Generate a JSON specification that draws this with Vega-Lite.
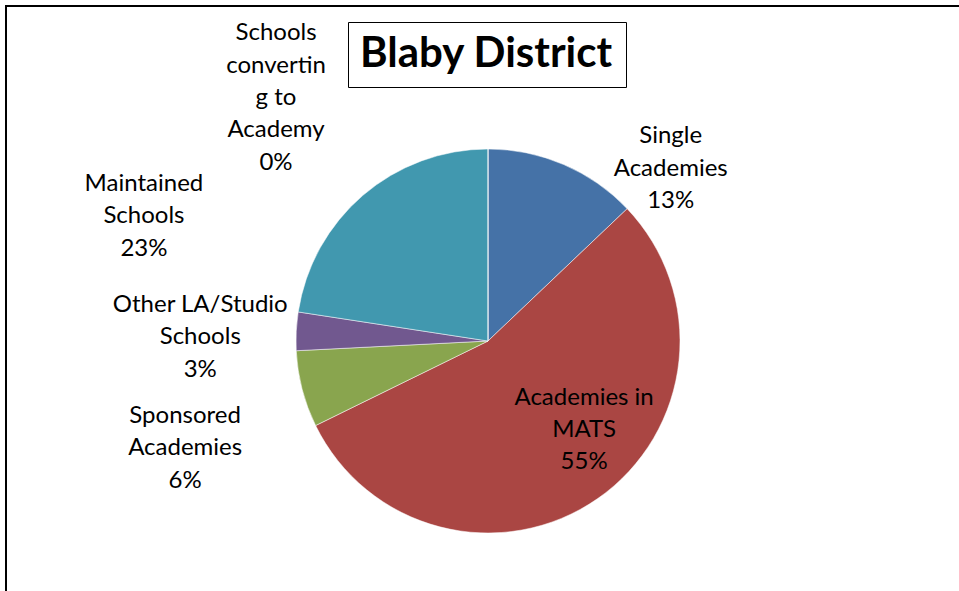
{
  "$schema": "https://vega.github.io/schema/vega-lite/v6.json",
  "autosize": {"type": "none"},
  "width": 964,
  "height": 670,
  "padding": {"left": 6, "top": 6, "right": -11, "bottom": -85},
  "background": "white",
  "view": {"stroke": "black", "strokeWidth": 2, "fill": "white"},
  "config": {"view": {"stroke": "black", "strokeWidth": 2}, "font": "Lato"},
  "data": {
    "values": [
      {"rank": 1, "category": "Single Academies", "schools": 4, "label": "Single\nAcademies\n13%"},
      {"rank": 2, "category": "Academies in MATS", "schools": 17, "label": "Academies in\nMATS\n55%"},
      {"rank": 3, "category": "Sponsored Academies", "schools": 2, "label": "Sponsored\nAcademies\n6%"},
      {"rank": 4, "category": "Other LA/Studio Schools", "schools": 1, "label": "Other LA/Studio\nSchools\n3%"},
      {"rank": 5, "category": "Maintained Schools", "schools": 7, "label": "Maintained\nSchools\n23%"},
      {"rank": 6, "category": "Schools converting to Academy", "schools": 0, "label": "Schools\nconvertin\ng to\nAcademy\n0%"}
    ]
  },
  "encoding": {
    "theta": {"field": "schools", "type": "quantitative", "stack": true},
    "order": {"field": "rank", "type": "quantitative"}
  },
  "layer": [
    {
      "mark": {"type": "arc", "outerRadius": 192, "stroke": "white", "strokeWidth": 0.5},
      "encoding": {
        "color": {
          "field": "category",
          "type": "nominal",
          "scale": {
            "domain": ["Single Academies", "Academies in MATS", "Sponsored Academies", "Other LA/Studio Schools", "Maintained Schools", "Schools converting to Academy"],
            "range": ["#4572A7", "#AA4643", "#89A54E", "#71588F", "#4198AF", "#DB843D"]
          },
          "legend": {
            "title": "Blaby District",
            "values": [],
            "orient": "none",
            "legendX": 342,
            "legendY": 16,
            "padding": 12,
            "strokeColor": "black",
            "fillColor": "white",
            "titleFontSize": 42,
            "titleFont": "Lato",
            "titleFontWeight": "bold",
            "titleColor": "black",
            "titlePadding": 0,
            "titleLimit": 500
          }
        }
      }
    },
    {
      "mark": {"type": "text", "radius": 192, "dx": 107, "dy": -28.4, "fontSize": 24, "lineHeight": 32.4, "lineBreak": "\n", "align": "center", "baseline": "middle", "color": "black"},
      "encoding": {
        "detail": {"field": "category", "type": "nominal"},
        "text": {"condition": {"test": "datum.category === 'Single Academies'", "field": "label", "type": "nominal"}, "value": ""}
      }
    },
    {
      "mark": {"type": "text", "radius": 128, "dx": 23, "dy": -48.4, "fontSize": 24, "lineHeight": 32.4, "lineBreak": "\n", "align": "center", "baseline": "middle", "color": "black"},
      "encoding": {
        "detail": {"field": "category", "type": "nominal"},
        "text": {"condition": {"test": "datum.category === 'Academies in MATS'", "field": "label", "type": "nominal"}, "value": ""}
      }
    },
    {
      "mark": {"type": "text", "radius": 192, "dx": -117, "dy": 26.6, "fontSize": 24, "lineHeight": 32.4, "lineBreak": "\n", "align": "center", "baseline": "middle", "color": "black"},
      "encoding": {
        "detail": {"field": "category", "type": "nominal"},
        "text": {"condition": {"test": "datum.category === 'Sponsored Academies'", "field": "label", "type": "nominal"}, "value": ""}
      }
    },
    {
      "mark": {"type": "text", "radius": 192, "dx": -96, "dy": -26.4, "fontSize": 24, "lineHeight": 32.4, "lineBreak": "\n", "align": "center", "baseline": "middle", "color": "black"},
      "encoding": {
        "detail": {"field": "category", "type": "nominal"},
        "text": {"condition": {"test": "datum.category === 'Other LA/Studio Schools'", "field": "label", "type": "nominal"}, "value": ""}
      }
    },
    {
      "mark": {"type": "text", "radius": 192, "dx": -219, "dy": -11.4, "fontSize": 24, "lineHeight": 32.4, "lineBreak": "\n", "align": "center", "baseline": "middle", "color": "black"},
      "encoding": {
        "detail": {"field": "category", "type": "nominal"},
        "text": {"condition": {"test": "datum.category === 'Maintained Schools'", "field": "label", "type": "nominal"}, "value": ""}
      }
    },
    {
      "mark": {"type": "text", "radius": 192, "dx": -212, "dy": -115.8, "fontSize": 24, "lineHeight": 32.4, "lineBreak": "\n", "align": "center", "baseline": "middle", "color": "black"},
      "encoding": {
        "detail": {"field": "category", "type": "nominal"},
        "text": {"condition": {"test": "datum.category === 'Schools converting to Academy'", "field": "label", "type": "nominal"}, "value": ""}
      }
    }
  ]
}
